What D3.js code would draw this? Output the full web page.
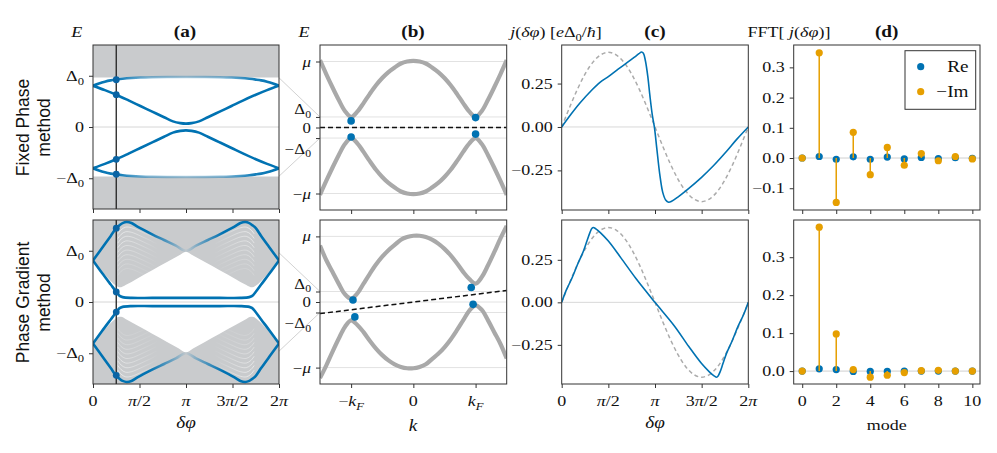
<!DOCTYPE html>
<html>
<head>
<meta charset="utf-8">
<script src="https://cdn.jsdelivr.net/npm/d3@7"></script>
<style>
  body { margin: 0; background: #fff; }
  svg text { font-family: "Liberation Serif", "Times New Roman", serif; fill: #111; }
</style>
</head>
<body>
<svg id="fig" width="997" height="453"></svg>
<script>
const PI = Math.PI;

// ---------- (a) Andreev levels vs phase difference, E in units of Δ0 ----------
const aTopOuterPhi = [0, 0.2, 0.4, 0.6, 0.785, 1.0, 1.3, 1.6, 2.0, 2.5, 3.14, 3.78, 4.28, 4.68, 4.98, 5.28, 5.5, 5.68, 5.88, 6.08, 6.283];
const aTopOuterE   = [0.805, 0.85, 0.885, 0.91, 0.925, 0.94, 0.955, 0.965, 0.972, 0.975, 0.975, 0.975, 0.972, 0.965, 0.955, 0.94, 0.925, 0.91, 0.885, 0.85, 0.805];
const aTopInnerPhi = [0, 0.4, 0.785, 1.2, 1.6, 2.0, 2.4, 2.7, 2.95, 3.14, 3.33, 3.58, 3.88, 4.28, 4.68, 5.08, 5.5, 5.88, 6.283];
const aTopInnerE   = [0.805, 0.72, 0.63, 0.52, 0.41, 0.30, 0.19, 0.11, 0.075, 0.065, 0.075, 0.11, 0.19, 0.30, 0.41, 0.52, 0.63, 0.72, 0.805];
const aTopGap = 0.966;

const aBotOuterPhi = [0, 0.3, 0.6, 0.785, 0.9, 1.0, 1.14, 1.3, 1.5, 2.0, 2.4, 2.8, 3.14, 3.48, 3.88, 4.28, 4.78, 4.98, 5.14, 5.28, 5.38, 5.5, 5.68, 5.98, 6.283];
const aBotOuterE   = [0.81, 1.05, 1.29, 1.44, 1.50, 1.54, 1.56, 1.54, 1.47, 1.32, 1.21, 1.10, 1.0, 1.10, 1.21, 1.32, 1.47, 1.54, 1.56, 1.54, 1.50, 1.44, 1.29, 1.05, 0.81];
const aBotInnerPhi = [0, 0.3, 0.6, 0.785, 0.9, 1.0, 1.3, 2.0, 3.14, 4.28, 4.98, 5.28, 5.38, 5.5, 5.68, 5.98, 6.283];
const aBotInnerE   = [0.81, 0.57, 0.34, 0.20, 0.12, 0.095, 0.08, 0.08, 0.08, 0.08, 0.08, 0.095, 0.12, 0.20, 0.34, 0.57, 0.81];
// lower edge of the gray continuum
const aBotEdgePhi = [0, 0.3, 0.55, 0.75, 0.85, 0.95, 1.1, 1.5, 2.0, 2.5, 2.9, 3.14, 3.38, 3.78, 4.28, 4.78, 5.18, 5.33, 5.43, 5.53, 5.73, 5.98, 6.283];
const aBotEdgeE   = [0.81, 0.60, 0.44, 0.33, 0.295, 0.29, 0.33, 0.46, 0.62, 0.78, 0.905, 0.98, 0.905, 0.78, 0.62, 0.46, 0.33, 0.29, 0.295, 0.33, 0.44, 0.60, 0.81];
// faint white levels inside the continuum
const arcPhi    = [0.84, 0.95, 1.1, 1.3, 1.6, 1.9, 2.2];
const arcDrop   = [-0.13, -0.05, 0, -0.01, -0.08, -0.16, -0.25];
const arcLevels = [1.46, 1.37, 1.28, 1.19, 1.10, 1.01, 0.92, 0.83, 0.74, 0.65];
const arcAlpha  = [0.75, 0.7, 0.65, 0.6, 0.5, 0.45, 0.4, 0.3, 0.25, 0.2];

const aCut = PI / 4;
const aTopDots = [0.922, 0.63, -0.63, -0.922];
const aBotDots = [1.44, 0.197, -0.197, -1.43];

// ---------- (b) BdG bands, k in kF, E in μ ----------
const bK = [-1.5, -1.4, -1.3, -1.2, -1.1, -1.0, -0.9, -0.8, -0.7, -0.6, -0.5, -0.4, -0.3, -0.2, -0.1, 0,
            0.1, 0.2, 0.3, 0.4, 0.5, 0.6, 0.7, 0.8, 0.9, 1.0, 1.1, 1.2, 1.3, 1.4, 1.5];
const bTopUpper = [1.02, 0.81, 0.61, 0.42, 0.25, 0.16, 0.24, 0.37, 0.51, 0.64, 0.75, 0.84, 0.91, 0.97, 1.00, 1.01,
                   1.00, 0.97, 0.91, 0.84, 0.75, 0.64, 0.51, 0.37, 0.24, 0.16, 0.25, 0.42, 0.61, 0.81, 1.02];
const bTopLower = [-1.02, -0.81, -0.61, -0.42, -0.25, -0.16, -0.24, -0.37, -0.51, -0.64, -0.75, -0.84, -0.91, -0.97, -1.00, -1.01,
                   -1.00, -0.97, -0.91, -0.84, -0.75, -0.64, -0.51, -0.37, -0.24, -0.16, -0.25, -0.42, -0.61, -0.81, -1.02];
const bBotUpper = [0.86, 0.64, 0.46, 0.28, 0.12, 0.05, 0.13, 0.28, 0.43, 0.57, 0.69, 0.79, 0.87, 0.95, 0.99, 1.01,
                   1.01, 0.99, 0.95, 0.89, 0.81, 0.71, 0.59, 0.46, 0.35, 0.28, 0.38, 0.56, 0.76, 0.97, 1.16];
const bBotLower = [-1.16, -0.97, -0.76, -0.56, -0.38, -0.28, -0.35, -0.46, -0.59, -0.71, -0.81, -0.89, -0.95, -0.99, -1.01, -1.01,
                   -0.99, -0.95, -0.87, -0.79, -0.69, -0.57, -0.43, -0.28, -0.13, -0.05, -0.12, -0.28, -0.46, -0.64, -0.86];
const bGrid = [1, 0.16, 0, -0.16, -1];
const bDashK = [-1.5, 1.5];
const bDashTop = [0, 0];
const bDashBot = [-0.177, 0.176];
const bTopDotK = [-1, -1, 1, 1], bTopDotE = [0.10, -0.145, 0.15, -0.10];
const bBotDotK = [-0.97, -0.94, 0.93, 0.96], bBotDotE = [0.03, -0.227, 0.22, -0.036];
// zoom connectors: gap edge in (a) -> ±Δ0 in (b)
const zoomFrom = [0.96, -0.96], zoomTo = [0.16, -0.16];

// ---------- (c) current-phase relation ----------
const cTopPhi = [0, 0.3, 0.6, 1.0, 1.3, 1.571, 1.9, 2.2, 2.45, 2.6, 2.69, 2.75, 2.82, 2.9, 2.97, 3.05, 3.12, 3.2, 3.3, 3.4, 3.5, 3.6, 3.7, 3.9, 4.2, 4.71, 5.1, 5.5, 5.9, 6.283];
const cTopJ   = [0, 0.07, 0.135, 0.21, 0.258, 0.29, 0.333, 0.37, 0.402, 0.422, 0.432, 0.425, 0.38, 0.29, 0.18, 0.07, 0.0, -0.12, -0.27, -0.375, -0.42, -0.433, -0.428, -0.405, -0.365, -0.29, -0.225, -0.15, -0.07, 0];
const cBotPhi = [0, 0.15, 0.34, 0.55, 0.73, 0.85, 0.95, 1.02, 1.064, 1.15, 1.3, 1.571, 2.0, 2.5, 3.14, 3.8, 4.28, 4.71, 4.98, 5.13, 5.22, 5.26, 5.33, 5.43, 5.55, 5.73, 5.94, 6.13, 6.283];
const cBotJ   = [0, 0.07, 0.14, 0.23, 0.3, 0.36, 0.41, 0.435, 0.44, 0.432, 0.41, 0.36, 0.26, 0.14, 0, -0.14, -0.26, -0.36, -0.41, -0.432, -0.44, -0.435, -0.41, -0.36, -0.3, -0.23, -0.14, -0.07, 0];
const cRefPhi = [0, 0.262, 0.524, 0.785, 1.047, 1.309, 1.571, 1.833, 2.094, 2.356, 2.618, 2.88, 3.142,
                 3.403, 3.665, 3.927, 4.189, 4.451, 4.712, 4.974, 5.236, 5.498, 5.76, 6.021, 6.283];
const cRefTop = [0, 0.111, 0.215, 0.304, 0.372, 0.415, 0.43, 0.415, 0.372, 0.304, 0.215, 0.111, 0,
                 -0.111, -0.215, -0.304, -0.372, -0.415, -0.43, -0.415, -0.372, -0.304, -0.215, -0.111, 0];
const cRefBot = [0, 0.114, 0.22, 0.311, 0.381, 0.425, 0.44, 0.425, 0.381, 0.311, 0.22, 0.114, 0,
                 -0.114, -0.22, -0.311, -0.381, -0.425, -0.44, -0.425, -0.381, -0.311, -0.22, -0.114, 0];

// ---------- (d) Fourier modes ----------
const modes = [0, 1, 2, 3, 4, 5, 6, 7, 8, 9, 10];
const dTopRe = [0, 0.005, -0.004, 0.004, -0.004, 0.003, -0.003, 0.002, -0.002, 0.001, -0.001];
const dTopIm = [0, 0.348, -0.147, 0.085, -0.055, 0.035, -0.024, 0.015, -0.009, 0.005, -0.003];
const dBotRe = [0, 0.006, 0.004, -0.001, -0.001, -0.001, 0, 0, 0, 0, 0];
const dBotIm = [0, 0.379, 0.098, 0.004, -0.016, -0.011, -0.004, 0.001, 0.002, 0, 0];

// ---------- ticks ----------
const D0 = [{t: 'Δ'}, {t: '0', s: 1}];
const mD0 = [{t: '−Δ'}, {t: '0', s: 1}];
const phiTicks = [0, PI / 2, PI, 1.5 * PI, 2 * PI];
const phiLabels = [[{t: '0'}], [{t: 'π', i: 1}, {t: '/2'}], [{t: 'π', i: 1}], [{t: '3'}, {t: 'π', i: 1}, {t: '/2'}], [{t: '2'}, {t: 'π', i: 1}]];
const aYTicks = [1, 0, -1], aYLabels = [D0, '0', mD0];
const bYLabels = [[{t: 'μ', i: 1}], D0, '0', mD0, [{t: '−'}, {t: 'μ', i: 1}]];
const bYOffTop = [0, -7.5, 0, 10.5, 0], bYOffBot = [0, -8, 0, 10.5, 0];
const bXTicks = [-1, 0, 1];
const bXLabels = [[{t: '−'}, {t: 'k', i: 1}, {t: 'F', i: 1, s: 1}], '0', [{t: 'k', i: 1}, {t: 'F', i: 1, s: 1}]];
const cYTicks = [0.25, 0, -0.25], cYLabels = ['0.25', '0.00', '−0.25'];
const dYTicksTop = [0.3, 0.2, 0.1, 0, -0.1], dYLabelsTop = ['0.3', '0.2', '0.1', '0.0', '−0.1'];
const dYTicksBot = [0.3, 0.2, 0.1, 0], dYLabelsBot = ['0.3', '0.2', '0.1', '0.0'];
const dXTicks = [0, 2, 4, 6, 8, 10];

const BLUE = '#0072b2', DOT = '#0a64a4', ORANGE = '#e69f00', GRAY = '#c9cbcd';

//------------------------------------------------

const svg = d3.select('#fig');
const defs = svg.append('defs');
const SX = 1.2;
let nClip = 0;

function rich(sel, parts, size) {
  let shift = 0;
  parts.forEach(p => {
    const ts = sel.append('tspan').text(p.t);
    if (p.i) ts.attr('font-style', 'italic');
    const want = p.s ? size * 0.28 : 0;
    if (want !== shift) { ts.attr('dy', want - shift); shift = want; }
    if (p.s) ts.attr('font-size', size * 0.7);
  });
}

function say(x, y, parts, o = {}) {
  const size = o.size || 15;
  const t = svg.append('text')
    .attr('transform', `translate(${x},${y}) scale(${SX},1)`)
    .attr('text-anchor', o.anchor || 'middle')
    .attr('font-size', size);
  if (o.bold) t.attr('font-weight', 'bold');
  rich(t, typeof parts === 'string' ? [{t: parts}] : parts, size);
  return t;
}

function makePanel(box, xd, yd) {
  const [x0, y0, x1, y1] = box;
  const x = d3.scaleLinear().domain(xd).range([x0, x1]);
  const y = d3.scaleLinear().domain(yd).range([y1, y0]);
  const id = 'clip' + (nClip++);
  defs.append('clipPath').attr('id', id).append('rect')
    .attr('x', x0).attr('y', y0).attr('width', x1 - x0).attr('height', y1 - y0);
  const g = svg.append('g').attr('clip-path', `url(#${id})`);
  return {box, x, y, g};
}

function finish(p, xt, yt) {
  const [x0, y0, x1, y1] = p.box;
  const ax = svg.append('g').attr('transform', `translate(0,${y1})`)
    .call(d3.axisBottom(p.x).tickValues(xt).tickSize(4).tickFormat(() => ''));
  const ay = svg.append('g').attr('transform', `translate(${x0},0)`)
    .call(d3.axisLeft(p.y).tickValues(yt).tickSize(4).tickFormat(() => ''));
  [ax, ay].forEach(a => {
    a.select('.domain').remove();
    a.selectAll('line').attr('stroke', '#333');
  });
  svg.append('rect').attr('x', x0).attr('y', y0).attr('width', x1 - x0).attr('height', y1 - y0)
    .attr('fill', 'none').attr('stroke', '#333').attr('stroke-width', 1);
}

function yLabels(p, ticks, labels, offs, size) {
  ticks.forEach((v, i) => say(p.box[0] - 9, p.y(v) + 5 + (offs ? offs[i] : 0), labels[i], {anchor: 'end', size: size || 15}));
}
function xLabels(p, ticks, labels) {
  ticks.forEach((v, i) => say(p.x(v), p.box[3] + 22, labels[i]));
}

function curve(p, xs, ys, o) {
  const pts = xs.map((v, i) => [v, ys[i]]);
  return p.g.append('path').datum(pts)
    .attr('d', d3.line().x(d => p.x(d[0])).y(d => p.y(d[1])).curve(o.curve || d3.curveCatmullRom.alpha(0.5)))
    .attr('fill', 'none')
    .attr('stroke', o.color)
    .attr('stroke-width', o.width || 1.5)
    .attr('stroke-dasharray', o.dash || null)
    .attr('stroke-opacity', o.opacity == null ? 1 : o.opacity);
}
const neg = a => a.map(v => -v);

function hline(p, v, color) {
  p.g.append('line').attr('x1', p.box[0]).attr('x2', p.box[2])
    .attr('y1', p.y(v)).attr('y2', p.y(v)).attr('stroke', color).attr('stroke-width', 1);
}

function fade(id, x1, x2, stops, color) {
  const lg = defs.append('linearGradient').attr('id', id).attr('gradientUnits', 'userSpaceOnUse')
    .attr('x1', x1).attr('x2', x2).attr('y1', 0).attr('y2', 0);
  stops.forEach(([o, a]) => lg.append('stop').attr('offset', o).attr('stop-color', color).attr('stop-opacity', a));
  return `url(#${id})`;
}

function dots(p, xs, ys, color, r) {
  p.g.append('g').selectAll('circle').data(xs.map((v, i) => [v, ys[i]])).join('circle')
    .attr('cx', d => p.x(d[0])).attr('cy', d => p.y(d[1])).attr('r', r).attr('fill', color);
}

// ---------- panel (a) ----------
function panelA(box, drawBody, outer, inner, cutE, stops, fid) {
  const p = makePanel(box, [0, 2 * PI], [-1.6, 1.6]);
  p.g.append('rect').attr('x', box[0]).attr('y', box[1]).attr('width', box[2] - box[0]).attr('height', box[3] - box[1]).attr('fill', GRAY);
  drawBody(p);
  hline(p, 0, '#d6d6d6');
  const grad = fade(fid, p.x(0), p.x(2 * PI), stops, BLUE);
  curve(p, outer[0], outer[1], {color: grad, width: 2.6});
  curve(p, outer[0], neg(outer[1]), {color: grad, width: 2.6});
  curve(p, inner[0], inner[1], {color: BLUE, width: 2.6});
  curve(p, inner[0], neg(inner[1]), {color: BLUE, width: 2.6});
  p.g.append('line').attr('x1', p.x(aCut)).attr('x2', p.x(aCut)).attr('y1', box[1]).attr('y2', box[3])
    .attr('stroke', '#222').attr('stroke-width', 1.3);
  dots(p, cutE.map(() => aCut), cutE, DOT, 3.4);
  return p;
}

const aTop = panelA([93, 45, 279, 209], p => {
  p.g.append('rect').attr('x', p.box[0]).attr('width', p.box[2] - p.box[0])
    .attr('y', p.y(aTopGap)).attr('height', p.y(-aTopGap) - p.y(aTopGap)).attr('fill', '#fff');
}, [aTopOuterPhi, aTopOuterE], [aTopInnerPhi, aTopInnerE], aTopDots,
  [[0, 1], [0.15, 0.9], [0.3, 0.45], [0.5, 0.3], [0.7, 0.45], [0.85, 0.9], [1, 1]], 'fadeA1');

const aBot = panelA([93, 220, 279, 384], p => {
  const edge = aBotEdgePhi.map((v, i) => [v, aBotEdgeE[i]]);
  p.g.append('path').datum(edge)
    .attr('d', d3.area().x(d => p.x(d[0])).y0(d => p.y(-d[1])).y1(d => p.y(d[1])).curve(d3.curveMonotoneX))
    .attr('fill', '#fff');
  const fl = fade('arcL', p.x(0.85), p.x(2.2), [[0, 1], [0.5, 0.6], [1, 0]], '#fff');
  const fr = fade('arcR', p.x(2 * PI - 0.85), p.x(2 * PI - 2.2), [[0, 1], [0.5, 0.6], [1, 0]], '#fff');
  arcLevels.forEach((lv, i) => {
    const e = arcDrop.map(d => lv + d);
    const phiR = arcPhi.map(v => 2 * PI - v);
    [[arcPhi, e, fl], [arcPhi, neg(e), fl], [phiR, e, fr], [phiR, neg(e), fr]].forEach(([xs, ys, c]) =>
      curve(p, xs, ys, {color: c, width: 0.8, opacity: arcAlpha[i]}));
  });
}, [aBotOuterPhi, aBotOuterE], [aBotInnerPhi, aBotInnerE], aBotDots,
  [[0, 1], [0.3, 1], [0.42, 0.5], [0.5, 0.04], [0.58, 0.5], [0.7, 1], [1, 1]], 'fadeA2');

// ---------- panel (b) ----------
function panelB(box, up, lo, dashE, dk, de) {
  const p = makePanel(box, [-1.5, 1.5], [-1.25, 1.25]);
  bGrid.forEach(v => hline(p, v, '#e2e2e2'));
  curve(p, bK, up, {color: '#a9a9a9', width: 4.2});
  curve(p, bK, lo, {color: '#a9a9a9', width: 4.2});
  curve(p, bDashK, dashE, {color: '#111', width: 1.5, dash: '5,3', curve: d3.curveLinear});
  dots(p, dk, de, BLUE, 3.8);
  return p;
}
const bTop = panelB([320, 45, 506.7, 210], bTopUpper, bTopLower, bDashTop, bTopDotK, bTopDotE);
const bBot = panelB([320, 220, 506.7, 384], bBotUpper, bBotLower, bDashBot, bBotDotK, bBotDotE);

// zoom connectors between (a) and (b)
[[aTop, bTop], [aBot, bBot]].forEach(([pa, pb]) => {
  zoomFrom.forEach((e, i) => svg.append('line')
    .attr('x1', pa.box[2]).attr('y1', pa.y(e)).attr('x2', pb.box[0]).attr('y2', pb.y(zoomTo[i]))
    .attr('stroke', '#d2d2d2').attr('stroke-width', 1));
});

// ---------- panel (c) ----------
function panelC(box, yd, phi, j, ref) {
  const p = makePanel(box, [0, 2 * PI], yd);
  hline(p, 0, '#d8d8d8');
  curve(p, cRefPhi, ref, {color: '#ababab', width: 1.5, dash: '4,3'});
  curve(p, phi, j, {color: BLUE, width: 1.6});
  return p;
}
const cTop = panelC([561.7, 45, 748.3, 210], [-0.478, 0.472], cTopPhi, cTopJ, cRefTop);
const cBot = panelC([561.7, 220, 748.3, 384], [-0.48, 0.484], cBotPhi, cBotJ, cRefBot);

// ---------- panel (d) ----------
function stems(p, ys, color) {
  const pts = modes.map((m, i) => [m, ys[i]]);
  const g = p.g.append('g');
  g.selectAll('line').data(pts).join('line')
    .attr('x1', d => p.x(d[0])).attr('x2', d => p.x(d[0]))
    .attr('y1', p.y(0)).attr('y2', d => p.y(d[1]))
    .attr('stroke', color).attr('stroke-width', 1.5);
  g.selectAll('circle').data(pts).join('circle')
    .attr('cx', d => p.x(d[0])).attr('cy', d => p.y(d[1])).attr('r', 3.6).attr('fill', color);
}
function panelD(box, yd, re, im) {
  const p = makePanel(box, [-0.5, 10.45], yd);
  hline(p, 0, '#cfcfcf');
  stems(p, re, BLUE);
  stems(p, im, ORANGE);
  return p;
}
const dTop = panelD([793.7, 45, 980, 210], [-0.172, 0.374], dTopRe, dTopIm);
const dBot = panelD([793.7, 220, 980, 384], [-0.034, 0.398], dBotRe, dBotIm);

// ---------- axes, frames, labels ----------
finish(aTop, phiTicks, aYTicks); yLabels(aTop, aYTicks, aYLabels);
finish(aBot, phiTicks, aYTicks); yLabels(aBot, aYTicks, aYLabels); xLabels(aBot, phiTicks, phiLabels);
finish(bTop, bXTicks, bGrid); yLabels(bTop, bGrid, bYLabels, bYOffTop, 14);
finish(bBot, bXTicks, bGrid); yLabels(bBot, bGrid, bYLabels, bYOffBot, 14); xLabels(bBot, bXTicks, bXLabels);
finish(cTop, phiTicks, cYTicks); yLabels(cTop, cYTicks, cYLabels);
finish(cBot, phiTicks, cYTicks); yLabels(cBot, cYTicks, cYLabels); xLabels(cBot, phiTicks, phiLabels);
finish(dTop, dXTicks, dYTicksTop); yLabels(dTop, dYTicksTop, dYLabelsTop);
finish(dBot, dXTicks, dYTicksBot); yLabels(dBot, dYTicksBot, dYLabelsBot); xLabels(dBot, dXTicks, dXTicks.map(String));

// legend
const leg = svg.append('g');
leg.append('rect').attr('x', 905).attr('y', 50.7).attr('width', 70.7).attr('height', 58.6)
  .attr('fill', '#fff').attr('stroke', '#333').attr('stroke-width', 1);
[[BLUE, 'Re', 66.7], [ORANGE, '−Im', 91.7]].forEach(([c, t, cy]) => {
  leg.append('circle').attr('cx', 920.7).attr('cy', cy).attr('r', 3.6).attr('fill', c);
  say(968.5, cy + 5.5, t, {anchor: 'end', size: 16});
});

// column headers
say(76.7, 37, [{t: 'E', i: 1}]);
say(304, 37, [{t: 'E', i: 1}]);
say(556, 37, [{t: 'j', i: 1}, {t: '('}, {t: 'δφ', i: 1}, {t: ') ['}, {t: 'e', i: 1}, {t: 'Δ'}, {t: '0', s: 1}, {t: '/'}, {t: 'ħ', i: 1}, {t: ']'}]);
say(789, 37, [{t: 'FFT[ '}, {t: 'j', i: 1}, {t: '('}, {t: 'δφ', i: 1}, {t: ')]'}]);
[['(a)', 185], ['(b)', 413], ['(c)', 655], ['(d)', 886.7]].forEach(([t, x]) => say(x, 37, t, {bold: true, size: 16}));

// axis labels
say(186, 428, [{t: 'δφ', i: 1}], {size: 16});
say(655, 428, [{t: 'δφ', i: 1}], {size: 16});
say(413, 431, [{t: 'k', i: 1}], {size: 16});
say(886.7, 430, 'mode', {size: 15});

// row labels
[['Fixed Phase', 127.5], ['Phase Gradient', 302.5]].forEach(([t, cy]) => {
  const tx = svg.append('text')
    .attr('transform', `translate(29.3,${cy}) rotate(-90)`)
    .attr('text-anchor', 'middle')
    .style('font-family', '"Liberation Sans", Arial, sans-serif')
    .attr('font-size', 17.5);
  tx.append('tspan').attr('x', 0).attr('dy', 0).text(t);
  tx.append('tspan').attr('x', 0).attr('dy', 20.7).text('method');
});
</script>
</body>
</html>
